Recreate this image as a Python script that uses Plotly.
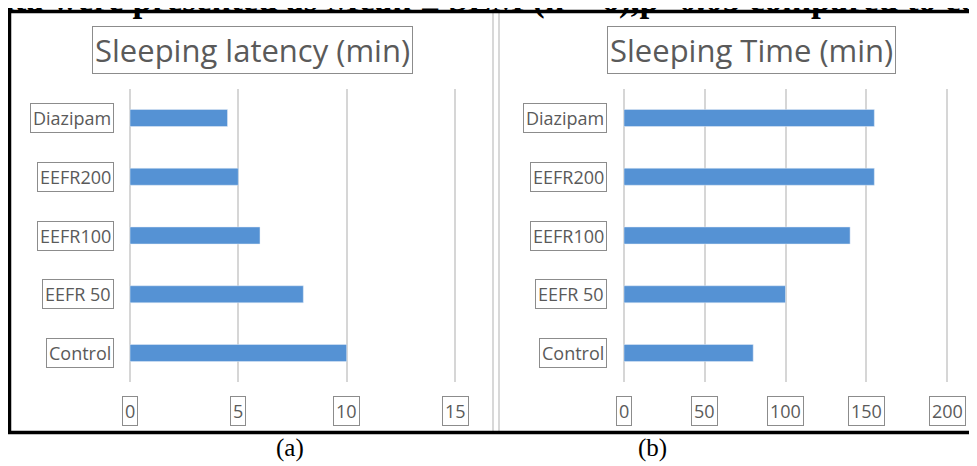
import plotly.graph_objects as go

W, H = 977, 466
OX, OY = 8, 8  # page offset of the plot div (body margin)

categories = ["Control", "EEFR 50", "EEFR100", "EEFR200", "Diazipam"]
latency_min = [10, 8, 6, 5, 4.5]
sleep_time_min = [80, 100, 140, 155, 155]
latency_ticks = [0, 5, 10, 15]
time_ticks = [0, 50, 100, 150, 200]
title_a = "Sleeping latency (min)"
title_b = "Sleeping Time (min)"
caption_top = "ata were presented as Mean ± SEM (n = 6),p<0.05 compared to control"

BAR = "#5592d4"
GRID = "#d6d6d6"
TXT = "#5a5a5a"
BOX = "#8c8c8c"
FONT = "Open Sans"


def px(x):
    return (x - OX) / W


def py(y):
    return 1 - (y - OY) / H


fig = go.Figure()
fig.add_trace(go.Bar(x=latency_min, y=categories, orientation="h", marker_color=BAR,
                     width=0.29, xaxis="x", yaxis="y", showlegend=False, hoverinfo="x+y"))
fig.add_trace(go.Bar(x=sleep_time_min, y=categories, orientation="h", marker_color=BAR,
                     width=0.29, xaxis="x2", yaxis="y2", showlegend=False, hoverinfo="x+y"))

ytop, ybot = 88.6, 382.4
xa_common = dict(showgrid=True, gridcolor=GRID, gridwidth=1.5, zeroline=False,
                 showticklabels=False, ticks="", showline=False, fixedrange=True)
ya_common = dict(showgrid=False, zeroline=False, showticklabels=False, ticks="",
                 showline=False, range=[-0.5, 4.5], fixedrange=True,
                 domain=[py(ybot), py(ytop)], categoryorder="array", categoryarray=categories)

# left axis: 0 at x=130, 15 at x=455
lp = 325 / 15
fig.update_layout(
    xaxis=dict(**xa_common, range=[-0.3, 15.3], tickvals=latency_ticks,
               domain=[px(130 - 0.3 * lp), px(455 + 0.3 * lp)], anchor="y"),
    yaxis=dict(**ya_common, anchor="x"),
)
# right axis: 0 at x=624, 200 at x=947
rp = 323 / 200
fig.update_layout(
    xaxis2=dict(**xa_common, range=[-4, 204], tickvals=time_ticks,
                domain=[px(624 - 4 * rp), px(947 + 4 * rp)], anchor="y2"),
    yaxis2=dict(**ya_common, anchor="x2"),
)

ann = []
box = dict(bordercolor=BOX, borderwidth=1, borderpad=2, showarrow=False)
# category labels
for c in categories:
    ann.append(dict(text=c, xref="paper", x=px(114), xanchor="right", yref="y", y=c,
                    yanchor="middle", font=dict(family=FONT, size=18, color=TXT), **box))
    ann.append(dict(text=c, xref="paper", x=px(607), xanchor="right", yref="y2", y=c,
                    yanchor="middle", font=dict(family=FONT, size=18, color=TXT), **box))
# tick labels
for t in latency_ticks:
    ann.append(dict(text=str(t), xref="x", x=t, xanchor="center", yref="paper", y=py(411),
                    yanchor="middle", font=dict(family=FONT, size=18, color=TXT), **box))
for t in time_ticks:
    ann.append(dict(text=str(t), xref="x2", x=t, xanchor="center", yref="paper", y=py(411),
                    yanchor="middle", font=dict(family=FONT, size=18, color=TXT), **box))
# titles
ann.append(dict(text=title_a, xref="paper", x=px(253), xanchor="center", yref="paper", y=py(50),
                yanchor="middle", font=dict(family=FONT, size=31, color=TXT), **box))
ann.append(dict(text=title_b, xref="paper", x=px(751), xanchor="center", yref="paper", y=py(50),
                yanchor="middle", font=dict(family=FONT, size=31, color=TXT), **box))
# panel captions
ann.append(dict(text="(a)", xref="paper", x=px(290), xanchor="center", yref="paper", y=py(448),
                yanchor="middle", showarrow=False,
                font=dict(family="Liberation Serif", size=25, color="black")))
ann.append(dict(text="(b)", xref="paper", x=px(652), xanchor="center", yref="paper", y=py(448),
                yanchor="middle", showarrow=False,
                font=dict(family="Liberation Serif", size=25, color="black")))
# cut-off caption line at the top
ann.append(dict(text="<b>" + caption_top + "</b>", xref="paper", x=px(-5), xanchor="left",
                yref="paper", y=py(-0.5), yanchor="middle", showarrow=False,
                font=dict(family="Liberation Serif", size=35, color="black")))

shapes = [
    # divider double line
    dict(type="line", xref="paper", yref="paper", x0=px(493), x1=px(493), y0=py(432), y1=py(12),
         line=dict(color="#d8d8d8", width=2)),
    dict(type="line", xref="paper", yref="paper", x0=px(499), x1=px(499), y0=py(432), y1=py(12),
         line=dict(color="#d8d8d8", width=2)),
    # black frame
    dict(type="line", xref="paper", yref="paper", x0=px(9.5), x1=px(9.5), y0=py(434), y1=py(10),
         line=dict(color="black", width=3.5)),
    dict(type="line", xref="paper", yref="paper", x0=px(8), x1=1.02, y0=py(11.5), y1=py(11.5),
         line=dict(color="black", width=3.5)),
    dict(type="line", xref="paper", yref="paper", x0=px(8), x1=1.02, y0=py(432.5), y1=py(432.5),
         line=dict(color="black", width=3.5)),
]

fig.update_layout(
    width=W, height=H, margin=dict(l=0, r=0, t=0, b=0),
    paper_bgcolor="white", plot_bgcolor="white",
    annotations=ann, shapes=shapes, bargap=0.7,
)

fig.write_html("out.html")
